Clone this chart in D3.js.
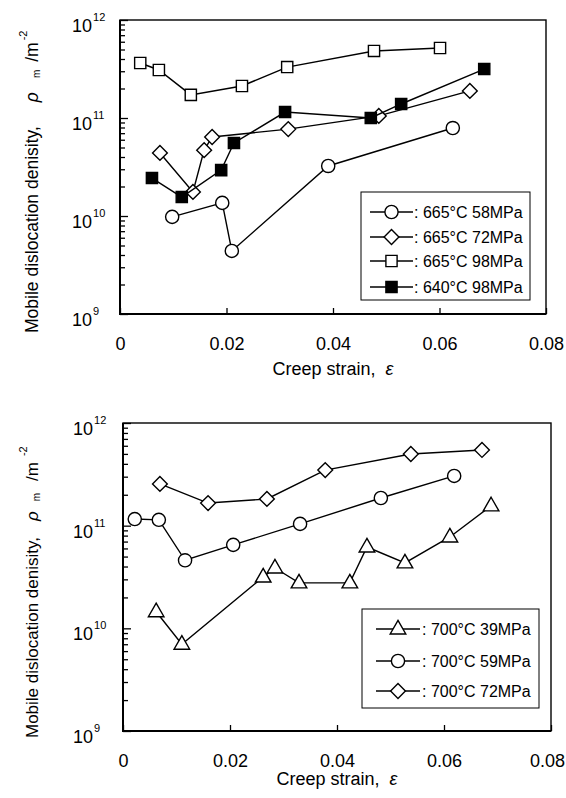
<!DOCTYPE html>
<html>
<head>
<meta charset="utf-8">
<script src="https://cdn.jsdelivr.net/npm/d3@7"></script>
<style>
  html, body { margin: 0; padding: 0; background: #fff; }
  svg { display: block; }
  text { font-family: "Liberation Sans", Arial, sans-serif; fill: #000; }
</style>
</head>
<body>
<svg id="fig" width="566" height="798"></svg>
<script>
// ---- Upper panel: 665 / 640 °C series ----
const strain665_58 = [0.0098, 0.0192, 0.0210, 0.0391, 0.0625];
const rho665_58    = [9.8e9, 1.36e10, 4.4e9, 3.24e10, 7.9e10];

const strain665_72 = [0.0075, 0.0137, 0.0158, 0.0173, 0.0316, 0.0486, 0.0657];
const rho665_72    = [4.4e10, 1.76e10, 4.7e10, 6.4e10, 7.7e10, 1.05e11, 1.89e11];

const strain665_98 = [0.0038, 0.0073, 0.0133, 0.0229, 0.0314, 0.0477, 0.0601];
const rho665_98    = [3.64e11, 3.09e11, 1.72e11, 2.12e11, 3.31e11, 4.83e11, 5.18e11];

const strain640_98 = [0.0060, 0.0116, 0.0190, 0.0214, 0.0310, 0.0471, 0.0528, 0.0684];
const rho640_98    = [2.44e10, 1.56e10, 2.94e10, 5.56e10, 1.15e11, 1.0e11, 1.39e11, 3.16e11];

// ---- Lower panel: 700 °C series ----
const strain700_39 = [0.0062, 0.0110, 0.0262, 0.0284, 0.0329, 0.0424, 0.0456, 0.0527, 0.0611, 0.0688];
const rho700_39    = [1.45e10, 7.0e9, 3.16e10, 3.87e10, 2.77e10, 2.77e10, 6.2e10, 4.34e10, 7.76e10, 1.56e11];

const strain700_59 = [0.0022, 0.0067, 0.0116, 0.0206, 0.0331, 0.0482, 0.0619];
const rho700_59    = [1.16e11, 1.14e11, 4.6e10, 6.5e10, 1.04e11, 1.86e11, 3.05e11];

const strain700_72 = [0.0069, 0.0159, 0.0269, 0.0378, 0.0538, 0.0671];
const rho700_72    = [2.55e11, 1.66e11, 1.82e11, 3.48e11, 4.99e11, 5.46e11];

// ---- Axis ticks and labels ----
const strainTicks = [0, 0.02, 0.04, 0.06, 0.08];
const strainTickLabels = ["0", "0.02", "0.04", "0.06", "0.08"];
const decadeTicks = [1e9, 1e10, 1e11, 1e12];
const decadeExponents = ["9", "10", "11", "12"];

const legendTop = [": 665°C 58MPa", ": 665°C 72MPa", ": 665°C 98MPa", ": 640°C 98MPa"];
const legendBottom = [": 700°C 39MPa", ": 700°C 59MPa", ": 700°C 72MPa"];

const svg = d3.select("#fig");
const pageWidth = +svg.attr("width");

// marker shapes centred on (0,0)
const shapes = {
  circle:   d3.symbol().type(d3.symbolCircle).size(Math.PI * 6.6 * 6.6)(),
  square:   "M-5.6,-5.6H5.6V5.6H-5.6Z",
  diamond:  "M0,-7.4L7.4,0L0,7.4L-7.4,0Z",
  triangle: "M0,-8.6L7.8,5L-7.8,5Z"
};

function panel(cfg) {
  const g = svg.append("g");
  const x = d3.scaleLinear().domain([0, 0.08]).range([cfg.left, cfg.right]);
  const y = d3.scaleLog().domain([1e9, 1e12]).range([cfg.bottom, cfg.top]);

  // minor log ticks (inward)
  const minor = y.ticks().filter(v => !decadeTicks.includes(v));
  const yMinor = d3.axisLeft(y).tickValues(minor).tickSize(-5).tickFormat("");
  const yMajor = d3.axisLeft(y).tickValues(decadeTicks).tickSize(-8).tickFormat("");
  [yMinor, yMajor].forEach(ax => {
    const a = g.append("g").attr("transform", `translate(${cfg.left},0)`).call(ax);
    a.select(".domain").remove();
    a.selectAll("line").attr("stroke", "#000").attr("stroke-width", 1.3);
  });

  // x ticks (inward) with labels
  const xAx = d3.axisBottom(x).tickValues(strainTicks).tickSize(-6).tickPadding(23)
    .tickFormat((d, i) => strainTickLabels[i]);
  const xa = g.append("g").attr("transform", `translate(0,${cfg.bottom})`).call(xAx);
  xa.select(".domain").remove();
  xa.selectAll("line").attr("stroke", "#000").attr("stroke-width", 1.3);
  xa.selectAll("text").attr("font-size", 18).attr("font-family", null).attr("fill", "#000");
  // keep the last label inside the page when the frame runs close to the edge
  xa.selectAll("text").each(function () {
    const node = this;
    const tick = node.parentNode;
    const tx = +d3.select(tick).attr("transform").match(/translate\(([-\d.]+)/)[1];
    const w = node.getComputedTextLength();
    if (tx + w / 2 > pageWidth - 1) {
      d3.select(node).attr("text-anchor", "end").attr("x", pageWidth - 1 - tx);
    }
  });

  // frame
  g.append("rect")
    .attr("x", cfg.left).attr("y", cfg.top)
    .attr("width", cfg.right - cfg.left).attr("height", cfg.bottom - cfg.top)
    .attr("fill", "none").attr("stroke", "#000").attr("stroke-width", 1.4);
  g.append("path")
    .attr("d", `M${cfg.left},${cfg.top}V${cfg.bottom}H${cfg.right}`)
    .attr("fill", "none").attr("stroke", "#000").attr("stroke-width", 2);

  // decade labels 10^n
  decadeTicks.forEach((v, i) => {
    const t = g.append("text")
      .attr("x", cfg.labelX).attr("y", y(v) + 12)
      .attr("font-size", 18);
    t.append("tspan").text("10");
    t.append("tspan").attr("font-size", 11).attr("dy", -11).attr("dx", 1).text(decadeExponents[i]);
  });

  // x title
  const xt = g.append("text")
    .attr("x", (cfg.left + cfg.right) / 2).attr("y", cfg.xTitleY)
    .attr("text-anchor", "middle").attr("font-size", 18);
  xt.append("tspan").text("Creep strain,");
  xt.append("tspan").attr("dx", 10).attr("font-style", "italic").text("ε");

  // y title
  const yt = g.append("text")
    .attr("transform", `translate(${cfg.yTitleX},${cfg.yTitleStart}) rotate(-90)`)
    .attr("font-size", cfg.yTitleSize);
  yt.append("tspan").text("Mobile dislocation denisity,");
  yt.append("tspan").attr("dx", cfg.gaps[0]).attr("font-style", "italic").text("ρ");
  yt.append("tspan").attr("dx", cfg.gaps[1]).attr("dy", 2).attr("font-size", 10).text("m");
  yt.append("tspan").attr("dx", cfg.gaps[2]).attr("dy", -2).text("/m");
  yt.append("tspan").attr("dx", cfg.gaps[3]).attr("dy", -11).attr("font-size", 11).text("-2");

  // series
  const line = d3.line().x(d => x(d[0])).y(d => y(d[1]));
  cfg.series.forEach(s => {
    const pts = s.strain.map((e, i) => [e, s.rho[i]]);
    g.append("path").attr("d", line(pts))
      .attr("fill", "none").attr("stroke", "#000").attr("stroke-width", 1.4);
    g.selectAll(null).data(pts).enter().append("path")
      .attr("d", shapes[s.shape])
      .attr("transform", d => `translate(${x(d[0])},${y(d[1])})`)
      .attr("fill", s.filled ? "#000" : "#fff")
      .attr("stroke", "#000").attr("stroke-width", 1.4);
  });

  // legend
  const L = cfg.legend;
  g.append("rect").attr("x", L.x).attr("y", L.y).attr("width", L.w).attr("height", L.h)
    .attr("fill", "#fff").attr("stroke", "#000").attr("stroke-width", 1);
  cfg.series.forEach((s, i) => {
    const ry = L.rowY[i];
    g.append("line").attr("x1", L.lineX0).attr("x2", L.lineX1).attr("y1", ry).attr("y2", ry)
      .attr("stroke", "#000").attr("stroke-width", 1.4);
    g.append("path").attr("d", shapes[s.shape])
      .attr("transform", `translate(${(L.lineX0 + L.lineX1) / 2},${ry})`)
      .attr("fill", s.filled ? "#000" : "#fff").attr("stroke", "#000").attr("stroke-width", 1.4);
    g.append("text").attr("x", L.textX).attr("y", ry + 6).attr("font-size", 16).text(s.label);
  });
}

panel({
  left: 120, right: 546, top: 20, bottom: 314,
  labelX: 72, xTitleY: 375, yTitleX: 38, yTitleStart: 333, yTitleSize: 17.5,
  gaps: [24, 14, 8, 2],
  series: [
    { strain: strain665_58, rho: rho665_58, shape: "circle",  filled: false, label: legendTop[0] },
    { strain: strain665_72, rho: rho665_72, shape: "diamond", filled: false, label: legendTop[1] },
    { strain: strain665_98, rho: rho665_98, shape: "square",  filled: false, label: legendTop[2] },
    { strain: strain640_98, rho: rho640_98, shape: "square",  filled: true,  label: legendTop[3] }
  ],
  legend: { x: 361, y: 192, w: 169, h: 108, rowY: [212, 237, 261, 287], lineX0: 370, lineX1: 413, textX: 414 }
});

panel({
  left: 123, right: 551, top: 423, bottom: 731,
  labelX: 73, xTitleY: 785, yTitleX: 38, yTitleStart: 738, yTitleSize: 17,
  gaps: [16, 10, 12, 6],
  series: [
    { strain: strain700_39, rho: rho700_39, shape: "triangle", filled: false, label: legendBottom[0] },
    { strain: strain700_59, rho: rho700_59, shape: "circle",   filled: false, label: legendBottom[1] },
    { strain: strain700_72, rho: rho700_72, shape: "diamond",  filled: false, label: legendBottom[2] }
  ],
  legend: { x: 362, y: 609, w: 177, h: 99, rowY: [629, 661, 691], lineX0: 376, lineX1: 420, textX: 422 }
});
</script>
</body>
</html>
